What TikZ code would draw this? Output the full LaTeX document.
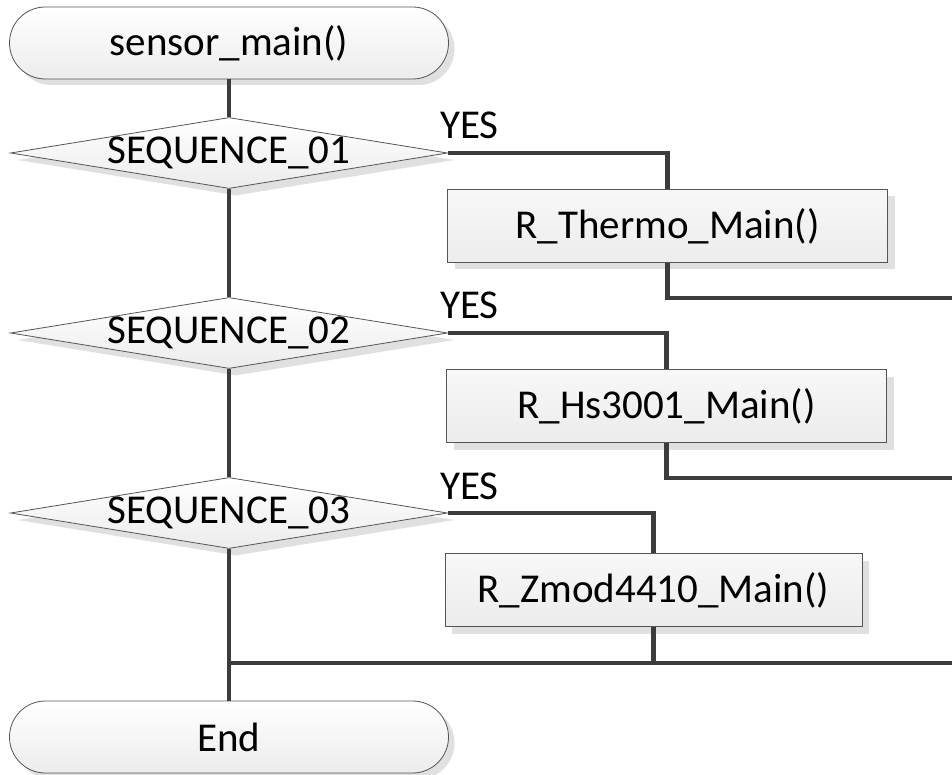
\documentclass[tikz,border=0pt]{standalone}
\usepackage{fontspec}
\setmainfont{Carlito}
\usetikzlibrary{shapes.geometric,shadows}
\definecolor{lineC}{HTML}{3C3C3C}
\definecolor{edgeC}{HTML}{555555}
\definecolor{shadowC}{HTML}{E0E0E0}
\definecolor{fillB}{HTML}{ECECEC}
\tikzset{
  txt/.style={font=\fontsize{41}{47}\selectfont},
  term/.style={txt, draw=edgeC, line width=0.8pt, rectangle, rounded corners=35.9pt,
    minimum width=439pt, minimum height=72pt, inner sep=0pt,
    top color=white, bottom color=fillB,
    drop shadow={shadow xshift=6pt, shadow yshift=-6pt, fill=shadowC, opacity=1}},
  procbox/.style={txt, draw=edgeC, line width=0.8pt, rectangle,
    minimum height=73pt, inner sep=0pt,
    top color=white!60!fillB, bottom color=fillB,
    drop shadow={shadow xshift=7pt, shadow yshift=-7pt, fill=shadowC, opacity=1}},
  decision/.style={draw=edgeC, line width=0.8pt, diamond, aspect=6.15,
    minimum width=437pt, minimum height=71pt, inner sep=0pt,
    top color=white, bottom color=fillB,
    drop shadow={shadow xshift=7pt, shadow yshift=-7pt, fill=shadowC, opacity=1},
    label={[txt]center:#1}},
  yeslbl/.style={txt, anchor=base west, inner sep=0pt},
  conn/.style={draw=lineC, line width=4.5pt},
}
\begin{document}
\begin{tikzpicture}[x=1pt,y=-1pt]
\useasboundingbox (0,0) rectangle (952,775);

\node[term] (start) at (229,43) {sensor\_main()};
\node[decision={SEQUENCE\_01}] (d1) at (229,153) {};
\node[decision={SEQUENCE\_02}] (d2) at (229,333) {};
\node[decision={SEQUENCE\_03}] (d3) at (229,513) {};
\node[term] (end) at (229,737) {End};

\node[procbox, minimum width=440pt] (b1) at (667.5,226) {R\_Thermo\_Main()};
\node[procbox, minimum width=440pt] (b2) at (666.5,406) {R\_Hs3001\_Main()};
\node[procbox, minimum width=417pt] (b3) at (653.5,590) {R\_Zmod4410\_Main()};

\node[yeslbl] (y1) at (440,139) {YES};
\node[yeslbl] (y2) at (440,319) {YES};
\node[yeslbl] (y3) at (440,499) {YES};

\coordinate (r1) at (952,298);
\coordinate (r2) at (952,478);
\coordinate (m3) at (229,663);
\coordinate (r3) at (952,663);

\draw[conn] (start.south) -- (d1.north);
\draw[conn] (d1.south) -- (d2.north);
\draw[conn] (d2.south) -- (d3.north);
\draw[conn] (d3.south) -- (end.north);
\draw[conn] (d1.east) -| (b1.north);
\draw[conn] (d2.east) -| (b2.north);
\draw[conn] (d3.east) -| (b3.north);
\draw[conn] (b1.south) |- (r1);
\draw[conn] (b2.south) |- (r2);
\draw[conn] (b3.south) -- (b3.south |- m3);
\draw[conn] (m3) -- (r3);
\end{tikzpicture}
\end{document}
